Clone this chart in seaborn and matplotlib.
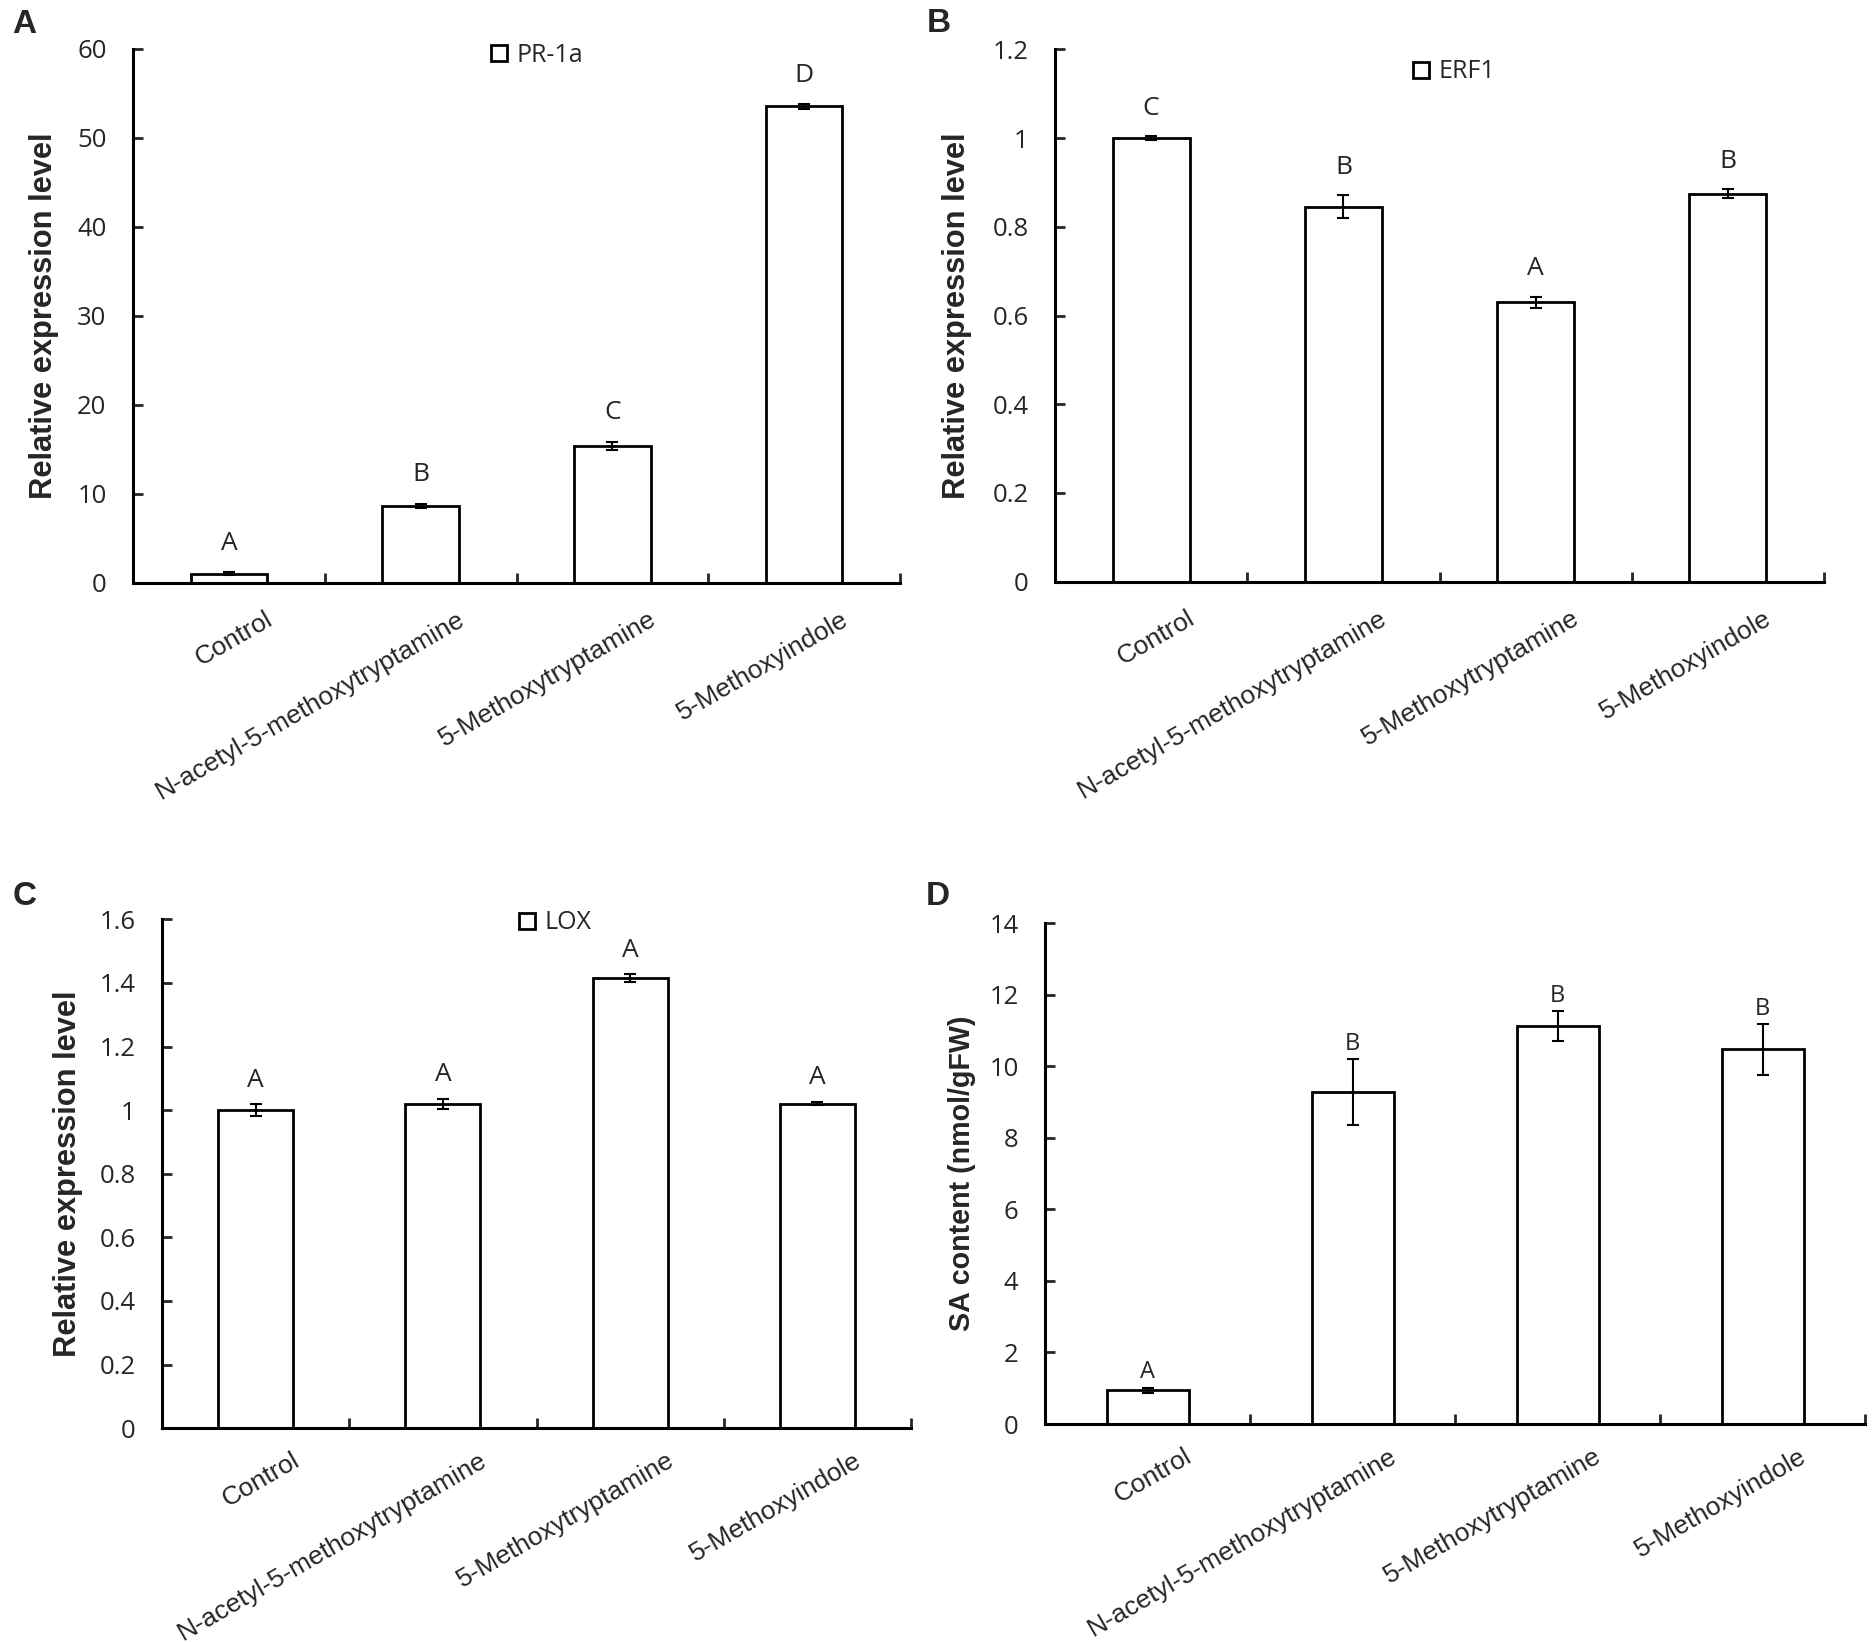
import matplotlib
matplotlib.use("Agg")
import matplotlib.pyplot as plt
import matplotlib.transforms as mtransforms
from matplotlib.lines import Line2D
import seaborn as sns

# --- data ---
treatments = ["Control", "N-acetyl-5-methoxytryptamine",
              "5-Methoxytryptamine", "5-Methoxyindole"]

pr1a_mean = [1.0, 8.6, 15.4, 53.5]
pr1a_err = [0.15, 0.25, 0.45, 0.25]
pr1a_letters = ["A", "B", "C", "D"]

erf1_mean = [1.0, 0.845, 0.63, 0.875]
erf1_err = [0.004, 0.026, 0.013, 0.01]
erf1_letters = ["C", "B", "A", "B"]

lox_mean = [1.0, 1.02, 1.415, 1.02]
lox_err = [0.018, 0.016, 0.012, 0.005]
lox_letters = ["A", "A", "A", "A"]

sa_mean = [0.95, 9.28, 11.12, 10.48]
sa_err = [0.07, 0.92, 0.42, 0.71]
sa_letters = ["A", "B", "B", "B"]

sns.set_theme(style="white")
plt.rcParams["font.family"] = ["Open Sans", "DejaVu Sans"]

fig = plt.figure(figsize=(18.75, 16.42), dpi=100)
W, H = 1875, 1642


def px_rect(x0, y0, x1, y1):
    return [x0 / W, 1 - y1 / H, (x1 - x0) / W, (y1 - y0) / H]


def draw_panel(ax, means, errs, letters, ymax, step, ylabel, label_x, label_size,
               legend_label=None, legend_pos=None, letter_off=20, letter_size=19,
               xpad=25):
    sns.barplot(x=treatments, y=means, color="white", edgecolor="black",
                linewidth=2, width=0.4, saturation=1, errorbar=None, ax=ax)
    ax.errorbar(range(len(means)), means, yerr=errs, fmt="none", ecolor="black",
                elinewidth=1.5, capsize=4.5, capthick=1.5, zorder=3)

    for i, (m, e, lab) in enumerate(zip(means, errs, letters)):
        ax.annotate(lab, xy=(i, m + e), xytext=(0, letter_off), textcoords="offset points",
                    ha="center", va="center", fontsize=letter_size, fontfamily="Open Sans")

    ax.set_xlim(-0.5, 3.5)
    ax.set_ylim(0, ymax)
    ticks = [round(step * k, 2) for k in range(int(round(ymax / step)) + 1)]
    ax.set_yticks(ticks)
    ax.set_yticklabels([f"{t:g}" for t in ticks], fontfamily="Open Sans", fontsize=18.5)
    ax.tick_params(axis="y", direction="in", length=7, width=2, pad=19, left=True)

    ax.set_xticks(range(len(treatments)))
    ax.set_xticks([0.5, 1.5, 2.5, 3.5], minor=True)
    ax.tick_params(axis="x", which="major", direction="in", length=0, pad=xpad)
    ax.tick_params(axis="x", which="minor", direction="in", length=7, width=2, bottom=True)
    ax.set_xticklabels(treatments, rotation=30, ha="right", va="center",
                       rotation_mode="anchor", fontfamily="Liberation Sans", fontsize=19)
    offset = mtransforms.ScaledTranslation(0.42, 0, fig.dpi_scale_trans)
    for t in ax.get_xticklabels():
        t.set_transform(t.get_transform() + offset)

    ax.set_xlabel("")
    ax.set_ylabel(ylabel, fontfamily="Liberation Sans", fontweight="bold", fontsize=label_size)
    ax.yaxis.set_label_coords(label_x, 0.5)

    for side in ["top", "right"]:
        ax.spines[side].set_visible(False)
    for side in ["left", "bottom"]:
        ax.spines[side].set_linewidth(2.2)
        ax.spines[side].set_color("black")
    ax.grid(False)

    if legend_label:
        h = Line2D([], [], marker="s", ls="", mfc="white", mec="black",
                   ms=11.5, mew=2, label=legend_label)
        ax.legend(handles=[h], loc="center left", bbox_to_anchor=legend_pos,
                  frameon=False, borderpad=0, borderaxespad=0, handlelength=0.8,
                  handletextpad=0.3, prop={"family": "Open Sans", "size": 18})


ax_a = fig.add_axes(px_rect(133, 48.6, 900, 582.7))
draw_panel(ax_a, pr1a_mean, pr1a_err, pr1a_letters, 60, 10,
           "Relative expression level", -0.097, 22.2, "PR-1a", (0.464, 0.987), 21)

ax_b = fig.add_axes(px_rect(1055, 49.5, 1824, 581.7))
draw_panel(ax_b, erf1_mean, erf1_err, erf1_letters, 1.2, 0.2,
           "Relative expression level", -0.108, 22.2, "ERF1", (0.463, 0.958), 20)

ax_c = fig.add_axes(px_rect(162, 919.3, 911, 1428.2))
draw_panel(ax_c, lox_mean, lox_err, lox_letters, 1.6, 0.2,
           "Relative expression level", -0.105, 22.2, "LOX", (0.474, 0.993), 17.5,
           xpad=22)

ax_d = fig.add_axes(px_rect(1045, 923.4, 1865, 1424))
draw_panel(ax_d, sa_mean, sa_err, sa_letters, 14, 2,
           "SA content (nmol/gFW)", -0.084, 20.6, None, None, 11, 17,
           xpad=22)

for txt, x, y in [("A", 12, 33), ("B", 927, 32), ("C", 13, 905), ("D", 926, 905)]:
    fig.text(x / W, 1 - y / H, txt, fontsize=24, fontweight="bold",
             fontfamily="Liberation Sans", ha="left", va="baseline")

fig.savefig("out.png", dpi=100, facecolor="white")
